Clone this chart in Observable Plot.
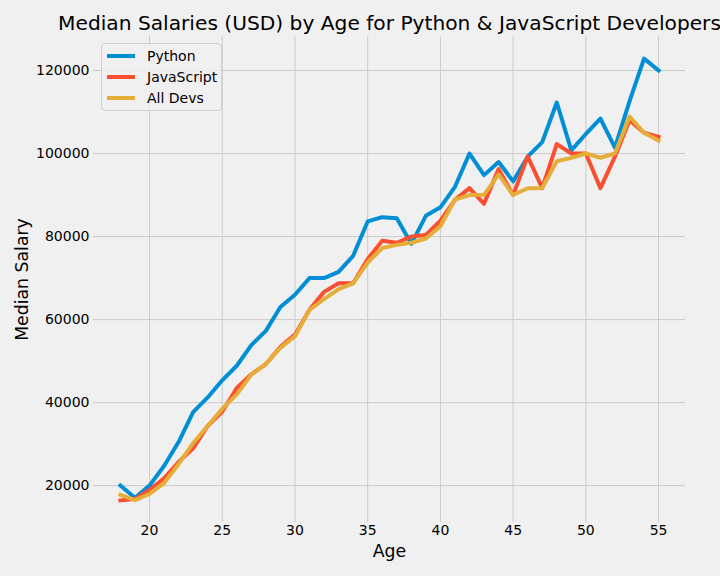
<!DOCTYPE html>
<html>
<head>
<meta charset="utf-8">
<script src="https://cdn.jsdelivr.net/npm/d3@7"></script>
<script src="https://cdn.jsdelivr.net/npm/@observablehq/plot@0.6"></script>
<style>
  body { margin: 0; background: #f0f0f0; }
  #wrap { position: relative; width: 720px; height: 576px; overflow: hidden; font-family: "DejaVu Sans", sans-serif; }
  #legend { position: absolute; left: 101px; top: 43px; width: 119px; height: 66px; border: 1px solid #d0d0d0; border-radius: 4px; background: rgba(240,240,240,0.8); }
  .row { position: absolute; left: 0; height: 20px; font-size: 14px; color: #000; }
  .sw { position: absolute; left: 5px; top: 8px; width: 28px; height: 4px; }
  .lbl { position: absolute; left: 45px; top: 1px; white-space: nowrap; line-height: 18px; }
</style>
</head>
<body>
<div id="wrap"></div>
<script>
const ages = [18, 19, 20, 21, 22, 23, 24, 25, 26, 27, 28, 29, 30, 31, 32, 33, 34, 35, 36, 37, 38, 39, 40, 41, 42, 43, 44, 45, 46, 47, 48, 49, 50, 51, 52, 53, 54, 55];
const pySalaries = [20046, 17100, 20000, 24744, 30500, 37732, 41247, 45372, 48876, 53850, 57287, 63016, 65998, 70003, 70000, 71496, 75370, 83640, 84666, 84392, 78254, 85000, 87038, 91991, 100000, 94796, 97962, 93302, 99240, 102736, 112285, 100771, 104708, 108423, 101407, 112542, 122870, 120000];
const jsSalaries = [16446, 16791, 18942, 21780, 25704, 29000, 34372, 37810, 43515, 46823, 49293, 53437, 56373, 62375, 66674, 68745, 68746, 74583, 79000, 78508, 79996, 80403, 83820, 88833, 91660, 87892, 96243, 90000, 99313, 91660, 102264, 100000, 100000, 91660, 99240, 108000, 105000, 104000];
const allSalaries = [17784, 16500, 18012, 20628, 25206, 30252, 34368, 38496, 42000, 46752, 49320, 53200, 56000, 62316, 64928, 67317, 68748, 73752, 77232, 78000, 78508, 79536, 82488, 88935, 90000, 90056, 95000, 90000, 91633, 91660, 98150, 98964, 100000, 98988, 100000, 108923, 105000, 103117];
const seriesNames = ["Python", "JavaScript", "All Devs"];
const seriesColors = ["#008fd5", "#fc4f30", "#e5ae38"];
const xTicks = [20, 25, 30, 35, 40, 45, 50, 55];
const yTicks = [20000, 40000, 60000, 80000, 100000, 120000];
const titleText = "Median Salaries (USD) by Age for Python & JavaScript Developers";

const allSeries = [pySalaries, jsSalaries, allSalaries];
const rows = allSeries.map((arr, i) => ages.map((a, j) => ({age: a, salary: arr[j], series: seriesNames[i]})));

const allVals = allSeries.flat();
const yMin = d3.min(allVals), yMax = d3.max(allVals);
const yPad = (yMax - yMin) * 0.05;
const xMin = d3.min(ages), xMax = d3.max(ages);
const xPad = (xMax - xMin) * 0.05;

const chart = Plot.plot({
  width: 720,
  height: 576,
  marginLeft: 93,
  marginRight: 35,
  marginTop: 36,
  marginBottom: 54,
  style: { background: "#f0f0f0", fontFamily: "DejaVu Sans, sans-serif", fontSize: "14px", color: "#000" },
  x: { domain: [xMin - xPad, xMax + xPad], label: null },
  y: { domain: [yMin - yPad, yMax + yPad], label: null },
  marks: [
    Plot.gridX(xTicks, { stroke: "#cbcbcb", strokeOpacity: 1, strokeWidth: 1 }),
    Plot.gridY(yTicks, { stroke: "#cbcbcb", strokeOpacity: 1, strokeWidth: 1 }),
    Plot.axisX(xTicks, { tickSize: 0, tickPadding: 3, tickFormat: d3.format("d"), fontSize: 14, fill: "#000", label: null }),
    Plot.axisY(yTicks, { tickSize: 0, tickPadding: 4, tickFormat: d3.format("d"), fontSize: 14, fill: "#000", label: null }),
    ...rows.map((r, i) => Plot.line(r, { x: "age", y: "salary", stroke: seriesColors[i], strokeWidth: 4, strokeLinejoin: "round", strokeLinecap: "square" })),
    Plot.text([titleText], { text: d => d, frameAnchor: "top", lineAnchor: "middle", dy: -13, fontSize: 20.2, fill: "#000" }),
    Plot.text(["Median Salary"], { text: d => d, frameAnchor: "left", textAnchor: "middle", lineAnchor: "middle", dx: -71, rotate: -90, fontSize: 17.3, fill: "#000" }),
    Plot.text(["Age"], { text: d => d, frameAnchor: "bottom", lineAnchor: "middle", dy: 29, fontSize: 17.3, fill: "#000" })
  ]
});

const wrap = document.getElementById("wrap");
wrap.appendChild(chart);

const legend = document.createElement("div");
legend.id = "legend";
seriesNames.forEach((name, i) => {
  const row = document.createElement("div");
  row.className = "row";
  row.style.top = (2 + i * 21) + "px";
  row.innerHTML = `<div class="sw" style="background:${seriesColors[i]}"></div><div class="lbl">${name}</div>`;
  legend.appendChild(row);
});
wrap.appendChild(legend);
</script>
</body>
</html>
